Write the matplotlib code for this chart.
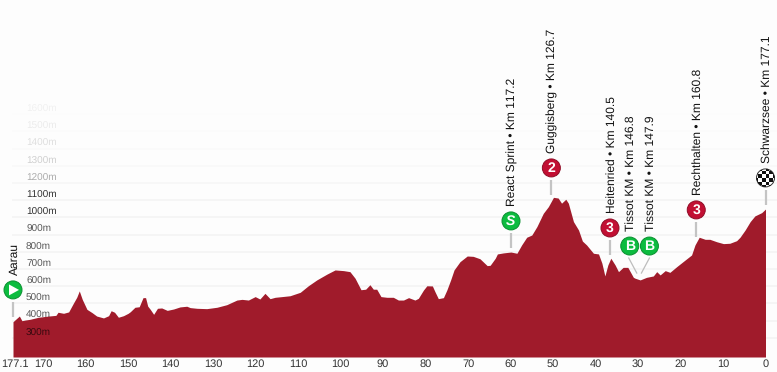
import matplotlib
matplotlib.use("Agg")
import matplotlib.pyplot as plt
from matplotlib.patches import Circle, Rectangle
from matplotlib.transforms import IdentityTransform, Affine2D

plt.rcParams['font.family'] = ['Liberation Sans', 'DejaVu Sans']
plt.rcParams['text.hinting'] = 'none'
plt.rcParams['text.hinting_factor'] = 1

km_to_go = [177.1,176.2,175.6,175.0,174.2,173.1,171.1,168.7,167.0,166.5,165.2,164.0,162.9,162.1,161.5,160.8,
            159.7,158.5,157.4,155.8,154.6,154.0,153.2,152.3,151.1,150.0,149.5,148.4,147.4,146.5,145.9,145.4,
            144.8,144.0,143.1,142.1,140.8,139.3,137.8,136.2,135.4,133.8,131.5,129.1,126.8,124.4,123.2,121.7,
            120.1,119.0,117.8,116.6,115.4,113.8,111.9,109.5,107.6,105.6,103.2,101.3,99.3,97.8,96.6,95.2,94.1,
            93.1,92.3,91.5,90.5,89.1,87.6,86.4,85.2,84.0,82.5,81.7,80.5,79.7,78.4,77.8,77.0,75.8,75.0,74.1,
            73.3,71.9,70.2,68.8,67.2,65.5,64.8,63.6,63.1,61.7,60.3,59.9,58.5,57.4,56.2,55.0,53.8,52.3,51.1,
            49.9,48.8,48.0,47.0,46.4,45.2,44.0,43.1,42.1,40.5,39.3,38.5,37.8,37.1,36.4,35.4,34.6,33.5,32.4,
            31.1,30.7,29.5,28.0,26.4,25.6,24.8,23.6,22.5,20.9,18.9,17.4,16.6,15.6,14.2,13.1,11.5,9.9,8.4,6.8,
            6.0,4.8,3.6,2.5,0.9,0.0]
elevation_m = [394,414,427,400,404,408,420,427,431,449,443,451,501,536,573,524,
               466,447,427,416,429,458,449,420,429,443,452,478,481,534,534,485,
               466,437,472,474,460,468,480,484,476,472,470,478,493,520,524,520,
               540,526,559,528,536,540,545,565,603,637,671,695,691,685,647,580,583,
               609,583,583,540,536,536,520,520,534,520,530,578,603,602,569,528,534,578,637,
               695,743,776,774,760,720,722,763,788,794,798,799,792,840,885,898,947,1024,1063,
               1117,1113,1083,1106,1083,976,927,863,840,792,788,734,660,724,763,724,685,710,710,
               652,647,637,652,660,685,666,691,681,714,753,782,840,885,873,873,859,848,850,865,
               885,927,976,1009,1028,1049]

y_ticks = [300,400,500,600,700,800,900,1000,1100,1200,1300,1400,1500,1600]
y_tick_labels = [f"{v}m" for v in y_ticks]
y_label_alpha = [.65,.65,.65,.65,.65,.65,.65,.8,.8,.32,.18,.12,.07,.05]
grid_alpha = [.8,.8,.8,.8,.8,.8,.8,.8,.8,.6,.4,.25,.15,.1]
x_ticks = [177.1,170,160,150,140,130,120,110,100,90,80,70,60,50,40,30,20,10,0]
x_tick_labels = ["177.1","170","160","150","140","130","120","110","100","90","80","70","60","50","40","30","20","10","0"]

stop_names = ["Aarau","React Sprint • Km 117.2","Guggisberg • Km 126.7","Heitenried • Km 140.5",
              "Tissot KM • Km 146.8","Tissot KM • Km 147.9","Rechthalten • Km 160.8","Schwarzsee • Km 177.1"]
stop_km = [177.1,59.9,50.4,36.6,30.3,29.2,16.3,0.0]
stop_m = [422,823,1131,782,677,677,887,1073]
stop_kind = ["start","S","2","3","B","B","3","finish"]
stop_dx = [0,0,0,0,-7,8,0,0]

GREEN, RED = "#0cbc3f", "#c20f33"
W, H = 777, 372
fig = plt.figure(figsize=(W/100, H/100), dpi=100, facecolor="#fdfdfd")
ax = fig.add_axes([13/W, 15/H, (765.5-13)/W, (H-15)/H])
ax.set_xlim(177.1, 0)
ax.set_ylim(189, 2264)
ax.patch.set_alpha(0)
for s in ax.spines.values():
    s.set_visible(False)
ax.set_yticks([])
ax.set_xticks(x_ticks, x_tick_labels, fontsize=7.6, color="#333333")
ax.tick_params(axis="x", length=0, pad=1.5)
first_label = ax.get_xticklabels()[0]
first_label.set_transform(first_label.get_transform() + Affine2D().translate(2, 0))

for v, a in zip(y_ticks, grid_alpha):
    ax.plot([177.1, -2.7], [v, v], color="#f3f3f3", lw=1.4, alpha=a, zorder=1, clip_on=False)
ax.fill_between(km_to_go, elevation_m, 189, color="#a01b2b", lw=0, zorder=2)
for v, lab, a in zip(y_ticks, y_tick_labels, y_label_alpha):
    ax.annotate(lab, (177.1, v), xytext=(9.4, 3.6), textcoords="offset points", fontsize=7.3,
                color="black", alpha=a, va="center", ha="left", zorder=3)

def circle_icon(cx, cy, face, edge):
    art = Circle((cx, cy), 9, transform=IdentityTransform(), fc=face, ec=edge, lw=0.7, zorder=6, clip_on=False)
    fig.add_artist(art)
    return art

for name, km, m, kind, dx in zip(stop_names, stop_km, stop_m, stop_kind, stop_dx):
    px, py = ax.transData.transform((km, m))
    cx, cy = px + dx, py + 27
    if kind == "B":
        fig.add_artist(plt.Line2D([px, cx - (1 if dx < 0 else 0)], [py, py + 15], transform=IdentityTransform(),
                                  color="#bdbdbd", lw=0.9, zorder=4))
    else:
        fig.add_artist(plt.Line2D([px, px], [py, py + 15], transform=IdentityTransform(),
                                  color="#c4c4c4", lw=1.6, zorder=4, solid_capstyle="butt"))
    if kind == "start":
        circle_icon(cx, cy, GREEN, "#0a8f30")
        tri = plt.Polygon([[cx-4, cy-5.5], [cx-4, cy+5.5], [cx+6, cy]], closed=True, transform=IdentityTransform(),
                          fc="white", ec="none", zorder=7)
        fig.add_artist(tri)
    elif kind == "finish":
        base = circle_icon(cx, cy, "white", "#333333")
        sq = 3.6
        for i in range(-3, 3):
            for j in range(-3, 3):
                if (i + j) % 2 == 0:
                    r = Rectangle((cx + i*sq, cy + j*sq), sq, sq, transform=IdentityTransform(),
                                  fc="#111111", ec="none", zorder=7)
                    fig.add_artist(r)
                    r.set_clip_path(base)
    else:
        face = RED if kind in ("2", "3") else GREEN
        edge = "#8f0c26" if kind in ("2", "3") else "#0a8f30"
        circle_icon(cx, cy, face, edge)
        style = "italic" if kind == "S" else "normal"
        fig.text(cx, cy - 0.3, kind, transform=IdentityTransform(), color="white", fontsize=10, fontweight="bold",
                 fontstyle=style, ha="center", va="center", zorder=8)
    fig.text(cx + 1.5, py + 42, name, transform=IdentityTransform(), rotation=90, fontsize=8.7, color="#111111",
             ha="center", va="bottom", zorder=8)

fig.savefig("out.png", dpi=100, facecolor=fig.get_facecolor())
